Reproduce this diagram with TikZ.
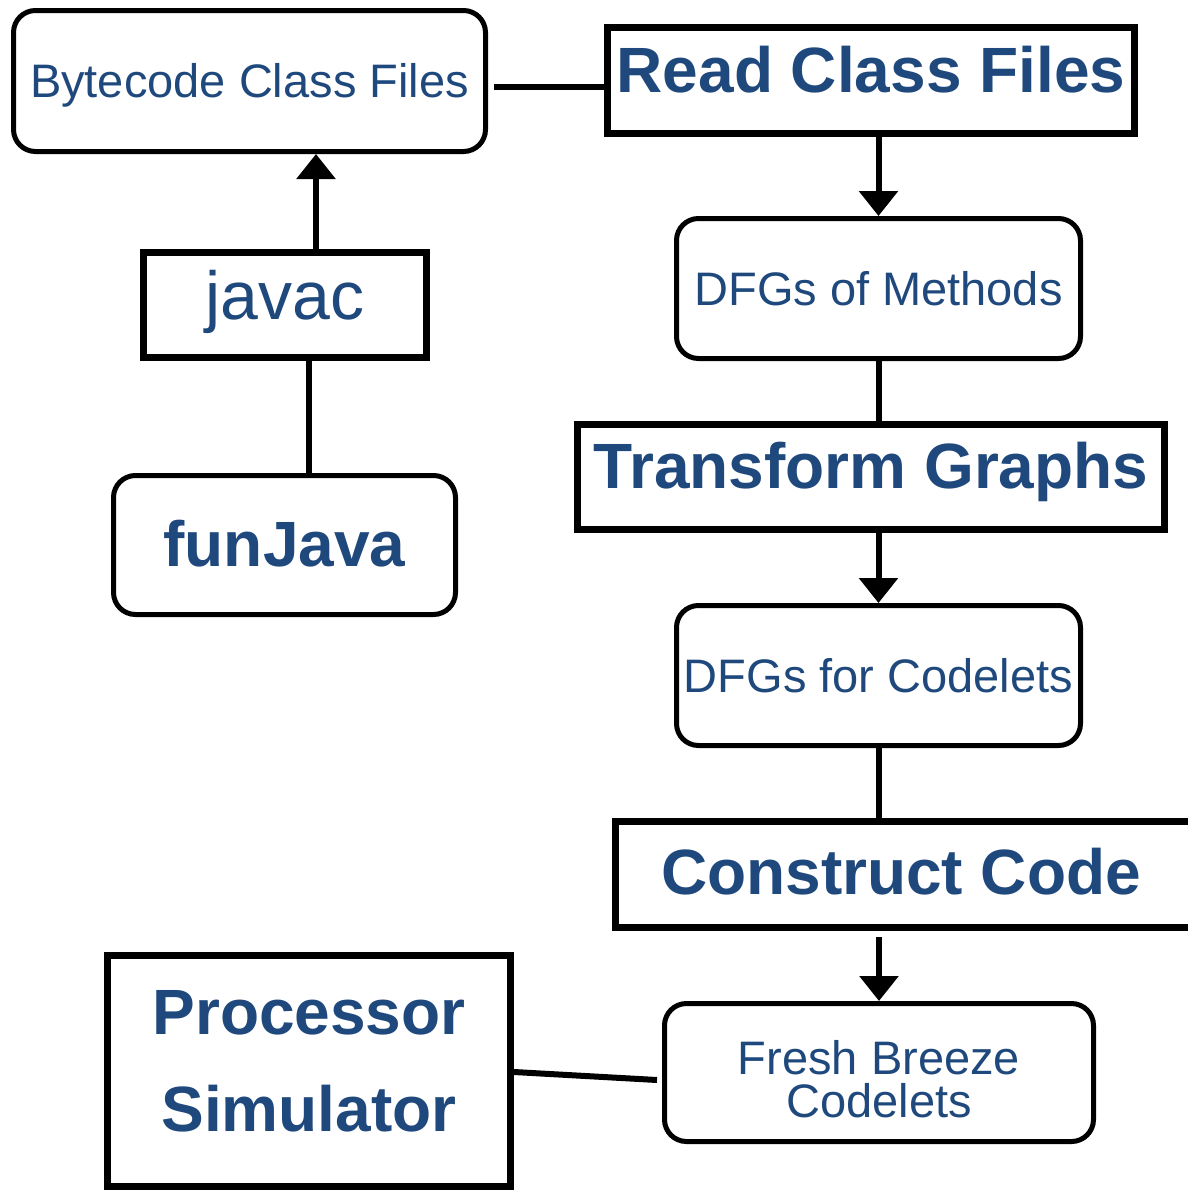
\documentclass[tikz,border=0pt]{standalone}
\usepackage{fontspec}
\setmainfont{Liberation Sans}
\usetikzlibrary{arrows.meta}
\definecolor{fbblue}{RGB}{31,73,125}
\begin{document}
\begin{tikzpicture}[x=1pt,y=-1pt,
  rbox/.style={draw, line width=5pt, rounded corners=22pt, inner sep=0pt, text=fbblue},
  sbox/.style={draw, line width=7pt, inner sep=0pt, text=fbblue},
  reg/.style={font=\fontsize{47}{42.7}\selectfont},
  bld/.style={font=\fontsize{64}{97}\selectfont\bfseries},
  conn/.style={line width=6pt},
  arr/.style={line width=6pt, -{Triangle[width=38pt,length=25pt]}},
  txt/.style={text=fbblue, inner sep=0pt, align=center}]
\useasboundingbox (0,0) rectangle (1188,1192);
\fill[white] (0,0) rectangle (1188,1192);

% left column
\node[rbox, reg, minimum width=472pt, minimum height=141pt, text height=33.7pt, text depth=0pt]
  (byte) at (249.5,81) {Bytecode Class Files};
\node[sbox, minimum width=283pt, minimum height=105pt,
  font=\fontsize{68}{70}\selectfont, text height=48.7pt, text depth=20.7pt]
  (javac) at (285,305) {javac};
\node[rbox, bld, minimum width=342pt, minimum height=139pt, text height=46.5pt, text depth=4.5pt]
  (fun) at (284.5,545) {funJava};
\node[sbox, minimum width=403pt, minimum height=231pt] (proc) at (309,1071) {};
\node[txt, bld] (proctext) at ([yshift=10pt]proc.center) {Processor\\Simulator};

% right column
\node[sbox, bld, minimum width=527pt, minimum height=106pt, text height=45.8pt, text depth=21pt]
  (read) at (871,80.5) {Read Class Files};
\node[rbox, reg, minimum width=404pt, minimum height=140pt, text height=33.7pt, text depth=0pt]
  (dfgm) at (878.5,288.5) {DFGs of Methods};
\node[sbox, bld, minimum width=587pt, minimum height=105pt, text height=45.8pt, text depth=23pt]
  (trans) at (871,477) {Transform Graphs};
\node[rbox, reg, minimum width=404pt, minimum height=140pt, text height=33.7pt, text depth=0pt]
  (dfgc) at (878.5,675.5) {DFGs for Codelets};
\node[sbox, minimum width=580pt, minimum height=106pt] (cons) at (905.5,874.5) {};
\node[txt, bld, text height=45.8pt, text depth=6pt] (constext) at ([xshift=-4.5pt]cons.center) {Construct Code};
\node[rbox, minimum width=429pt, minimum height=138pt] (fb) at (879,1072.5) {};
\node[txt, reg] (fbtext) at ([yshift=-6.5pt]fb.center) {Fresh Breeze\\Codelets};

% connectors
\draw[conn] ([shift={(6pt,-6pt)}]byte.east) -- ([yshift=-6.5pt]read.west);
\draw[arr] (read.south -| dfgm.north) -- (dfgm.north);
\draw[conn] (dfgm.south) -- (dfgm.south |- trans.north);
\draw[arr] (trans.south -| dfgc.north) -- (dfgc.north);
\draw[conn] (dfgc.south) -- ([yshift=-6pt]dfgc.south |- cons.north);
\draw[arr] ([yshift=-6pt]cons.south -| fb.north) -- (fb.north);
\draw[arr] ([xshift=31pt]javac.north) -- ([xshift=31pt]javac.north |- byte.south);
\draw[conn] ([xshift=24pt]javac.south) -- ([xshift=24pt]javac.south |- fun.north);
\draw[conn] ([yshift=-1pt]proc.east) -- ([shift={(-5pt,-7.5pt)}]fb.west);
\end{tikzpicture}
\end{document}
